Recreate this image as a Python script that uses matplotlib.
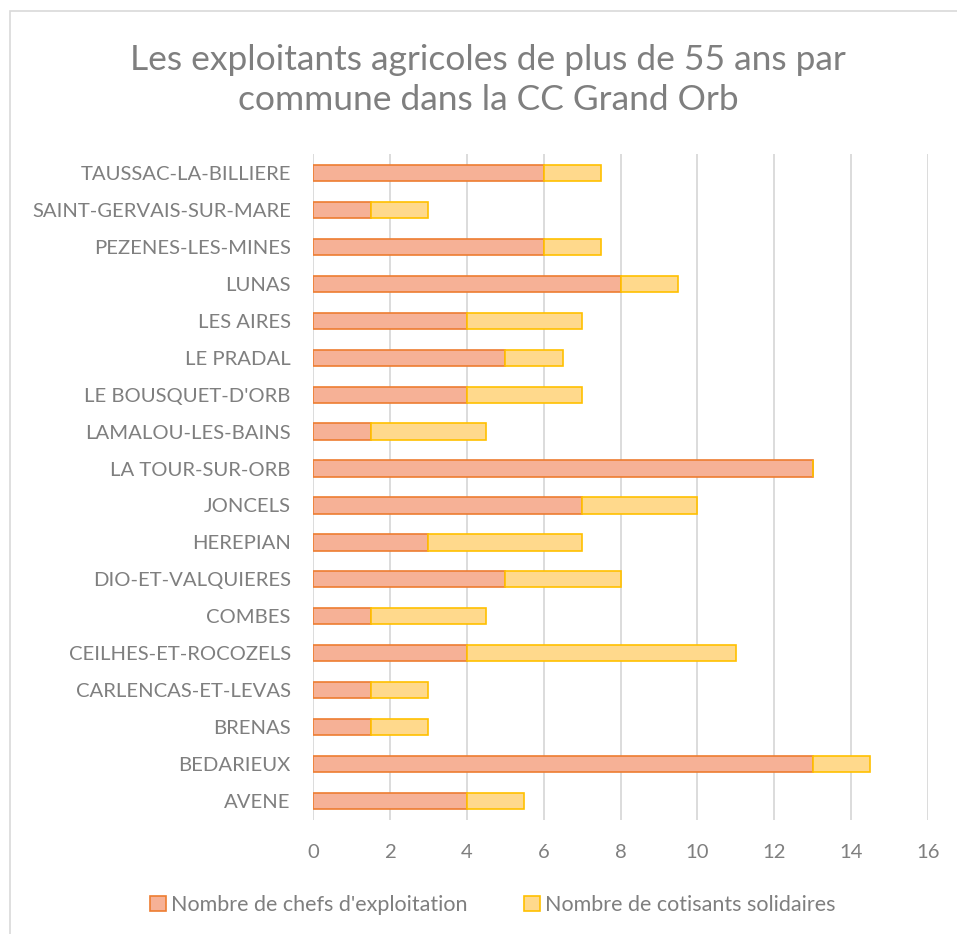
import matplotlib
matplotlib.use('Agg')
import matplotlib.pyplot as plt
import matplotlib.patches as mpatches
import numpy as np

plt.rcParams['font.family'] = ['Lato', 'DejaVu Sans']

communes = ['AVENE', 'BEDARIEUX', 'BRENAS', 'CARLENCAS-ET-LEVAS',
            'CEILHES-ET-ROCOZELS', 'COMBES', 'DIO-ET-VALQUIERES', 'HEREPIAN',
            'JONCELS', 'LA TOUR-SUR-ORB', 'LAMALOU-LES-BAINS',
            "LE BOUSQUET-D'ORB", 'LE PRADAL', 'LES AIRES', 'LUNAS',
            'PEZENES-LES-MINES', 'SAINT-GERVAIS-SUR-MARE', 'TAUSSAC-LA-BILLIERE']
chefs = [4, 13, 1.5, 1.5, 4, 1.5, 5, 3, 7, 13, 1.5, 4, 5, 4, 8, 6, 1.5, 6]
cotisants = [1.5, 1.5, 1.5, 1.5, 7, 3, 3, 4, 3, 0, 3, 3, 1.5, 3, 1.5, 1.5, 1.5, 1.5]

grey = '#7F7F7F'
fig = plt.figure(figsize=(9.57, 9.34), dpi=100)
ax = fig.add_axes([313 / 957, 1 - 819.5 / 934, 615 / 957, 665 / 934])

y = np.arange(len(communes))
ax.barh(y, chefs, height=0.44, color='#F6B196', edgecolor='#ED7D31', linewidth=1.2,
        label="Nombre de chefs d'exploitation", zorder=3)
ax.barh(y, cotisants, left=chefs, height=0.44, color='#FFD98C', edgecolor='#FFC000',
        linewidth=1.2, label='Nombre de cotisants solidaires', zorder=3)

ax.set_xlim(0, 16)
ax.set_ylim(-0.5, len(communes) - 0.5)
ax.set_xticks(np.arange(0, 17, 2))
ax.set_yticks(y)
ax.set_yticklabels(communes)
ax.grid(axis='x', color='#D9D9D9', linewidth=1.3, zorder=0)
for s in ax.spines.values():
    s.set_visible(False)
ax.tick_params(length=0, labelcolor=grey, labelsize=14.6)
ax.tick_params(axis='x', pad=18)
ax.tick_params(axis='y', pad=16)

fig.text(0.51, 1 - 80 / 934,
         'Les exploitants agricoles de plus de 55 ans par\ncommune dans la CC Grand Orb',
         ha='center', va='center', fontsize=25.5, color=grey, linespacing=1.32)

leg = fig.legend(loc='center', bbox_to_anchor=(0.515, 1 - 905 / 934), ncol=2,
                 frameon=False, fontsize=15.5, handlelength=0.75, handleheight=0.75,
                 handletextpad=0.25, columnspacing=2.6)
for t in leg.get_texts():
    t.set_color(grey)

fig.patches.append(mpatches.Rectangle((10 / 957, -0.05), 1.1, 1 - 11 / 934 + 0.05,
                                      transform=fig.transFigure, fill=False,
                                      edgecolor='#D9D9D9', linewidth=1.2))

fig.savefig('out.png', dpi=100)
